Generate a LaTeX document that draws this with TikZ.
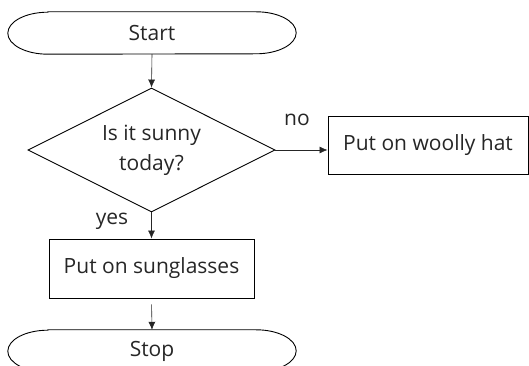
\documentclass[tikz,border=0pt]{standalone}
\usepackage{fontspec}
\setmainfont{Open Sans}
\usetikzlibrary{shapes.geometric,arrows.meta}
\definecolor{txt}{HTML}{262626}
\tikzset{
  shapeline/.style={draw=black,line width=0.9pt},
  conn/.style={draw=black!85,line width=0.6pt,-{Latex[length=8pt,width=7pt]}},
  term/.style={minimum width=288pt,minimum height=42pt,inner sep=0pt,text=txt,font=\fontsize{21}{25}\selectfont},
  procbox/.style={shapeline,rectangle,inner sep=0pt,text=txt,font=\fontsize{21}{25}\selectfont},
  decision/.style={shapeline,diamond,aspect=2,inner sep=0pt,minimum width=247pt,minimum height=124pt,text=txt,align=center,font=\fontsize{21}{30}\selectfont},
  lbl/.style={text=txt,inner sep=0pt,font=\fontsize{21}{25}\selectfont}
}
\newcommand{\termshape}[1]{%
  \draw[shapeline] ([xshift=40pt]#1.north west) -- ([xshift=-40pt]#1.north east)
    arc[start angle=90,end angle=-90,x radius=40pt,y radius=21pt]
    -- ([xshift=40pt]#1.south west)
    arc[start angle=270,end angle=90,x radius=40pt,y radius=21pt] -- cycle;}
\begin{document}
\begin{tikzpicture}[x=1pt,y=1pt]
\useasboundingbox (0,0) rectangle (529,366);
\begin{scope}
\clip (0,0) rectangle (529,366);
\node[term] (start) at (152,333) {Start};
\termshape{start}
\node[decision] (dia) at (151.5,216) {Is it sunny\\today?};
\node[procbox,minimum width=200pt,minimum height=58pt] (hat) at (428,221) {Put on woolly hat};
\node[procbox,minimum width=205pt,minimum height=59pt] (sun) at (151.5,97.5) {Put on sunglasses};
\node[term] (stop) at (152,15) {Stop};
\termshape{stop}
\draw[conn] (start.south) -- (dia.north);
\draw[conn] (dia.east) -- (dia.east -| hat.west);
\draw[conn] (dia.south) -- (sun.north);
\draw[conn,shorten <=6pt] (sun.south) -- (stop.north);
\node[lbl] (no) at (297,246) {no};
\node[lbl] (yes) at (112,145) {yes};
\end{scope}
\end{tikzpicture}
\end{document}
